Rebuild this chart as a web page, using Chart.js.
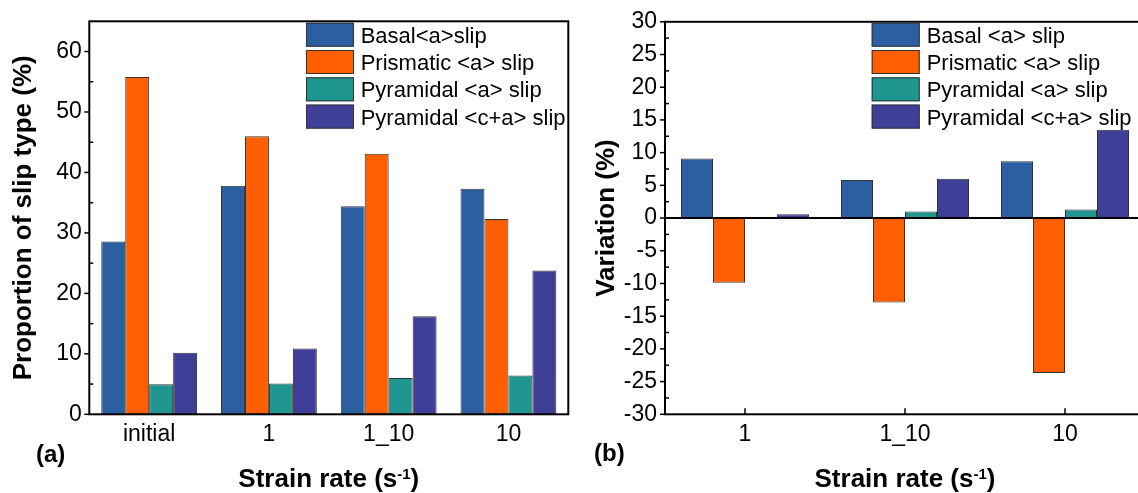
<!DOCTYPE html>
<html><head><meta charset="utf-8">
<script src="https://cdn.jsdelivr.net/npm/chart.js@4/dist/chart.umd.min.js"></script>
<style>
html,body{margin:0;padding:0;background:#fff;overflow:hidden;width:1138px;height:493px;position:relative;}
#ca{position:absolute;left:0;top:0;width:570px;height:493px;}
#cb{position:absolute;left:570px;top:0;width:600px;height:493px;}
</style></head><body>
<canvas id="ca" width="570" height="493"></canvas>
<canvas id="cb" width="600" height="493"></canvas>
<script>
// ---------- data ----------
const categoriesA = ['initial', '1', '1_10', '10'];
const categoriesB = ['1', '1_10', '10'];
const namesA = ['Basal<a>slip', 'Prismatic <a> slip', 'Pyramidal <a> slip', 'Pyramidal <c+a> slip'];
const namesB = ['Basal <a> slip', 'Prismatic <a> slip', 'Pyramidal <a> slip', 'Pyramidal <c+a> slip'];
const basalA     = [28.6, 37.8, 34.4, 37.3];
const prismaticA = [55.8, 46.0, 43.1, 32.3];
const pyrAA      = [4.95, 5.1, 6.0, 6.4];
const pyrCAA     = [10.2, 10.9, 16.2, 23.8];
const basalB     = [9.1, 5.8, 8.7];
const prismaticB = [-9.9, -12.9, -23.7];
const pyrAB      = [0.15, 1.0, 1.3];
const pyrCAB     = [0.6, 6.0, 13.5];
const ticksA = [0, 10, 20, 30, 40, 50, 60];
const minorTicksA = [5, 15, 25, 35, 45, 55];
const ticksB = [-30, -25, -20, -15, -10, -5, 0, 5, 10, 15, 20, 25, 30];
const minorTicksB = [-27.5, -22.5, -17.5, -12.5, -7.5, -2.5, 2.5, 7.5, 12.5, 17.5, 22.5, 27.5];
const colors = ['#2C5FA0', '#FF5F00', '#1F9690', '#403F98'];

const FONT = "'Liberation Sans', Arial, Helvetica, sans-serif";

function line(ctx, x1, y1, x2, y2) { ctx.beginPath(); ctx.moveTo(x1, y1); ctx.lineTo(x2, y2); ctx.stroke(); }

const deco = {
  id: 'deco',
  afterDatasetsDraw(chart, args, o) {
    const ctx = chart.ctx, a = chart.chartArea, x = chart.scales.x, y = chart.scales.y;
    ctx.save();
    ctx.strokeStyle = '#000';
    ctx.lineWidth = 2;
    if (o.zeroLine) { const zy = y.getPixelForValue(0); line(ctx, a.left, zy, a.right, zy); }
    ctx.strokeRect(a.left, a.top, a.right - a.left, a.bottom - a.top);
    ctx.lineWidth = 1.5;
    o.majors.forEach(v => { const py = y.getPixelForValue(v); line(ctx, a.left - 5, py, a.left, py); });
    o.minors.forEach(v => { const py = y.getPixelForValue(v); line(ctx, a.left, py, a.left + 4, py); });
    if (o.xTicks) x.ticks.forEach((t, i) => { const px = x.getPixelForTick(i); line(ctx, px, a.bottom, px, a.bottom - 6); });
    // legend
    const L = o.legend;
    chart.data.datasets.forEach((ds, i) => {
      const by = L.y + i * L.pitch;
      ctx.fillStyle = ds.backgroundColor;
      ctx.fillRect(L.x, by, L.bw, L.bh);
      ctx.strokeStyle = '#333'; ctx.lineWidth = 1;
      ctx.strokeRect(L.x + 0.5, by + 0.5, L.bw - 1, L.bh - 1);
      ctx.fillStyle = '#000';
      ctx.font = '22px ' + FONT;
      ctx.textAlign = 'left'; ctx.textBaseline = 'alphabetic';
      ctx.fillText(ds.label, L.tx, by + L.bh / 2 + 7.9);
    });
    // x title with superscript
    ctx.fillStyle = '#000';
    const cx = (a.left + a.right) / 2, base = o.xTitleY;
    const f1 = 'bold 26px ' + FONT, f2 = 'bold 15px ' + FONT;
    const p1 = 'Strain rate (s', p2 = '-1', p3 = ')';
    ctx.font = f1; const w1 = ctx.measureText(p1).width, w3 = ctx.measureText(p3).width;
    ctx.font = f2; const w2 = ctx.measureText(p2).width;
    let sx = cx - (w1 + w2 + w3) / 2;
    ctx.textAlign = 'left'; ctx.textBaseline = 'alphabetic';
    ctx.font = f1; ctx.fillText(p1, sx, base); sx += w1;
    ctx.font = f2; ctx.fillText(p2, sx, base - 8); sx += w2;
    ctx.font = f1; ctx.fillText(p3, sx, base);
    // y title
    ctx.save();
    ctx.translate(o.yTitleX, (a.top + a.bottom) / 2);
    ctx.rotate(-Math.PI / 2);
    ctx.font = 'bold 26px ' + FONT; ctx.textAlign = 'center'; ctx.textBaseline = 'alphabetic';
    ctx.fillText(o.yTitle, 0, 0);
    ctx.restore();
    // panel label
    ctx.font = 'bold 24px ' + FONT; ctx.textAlign = 'left'; ctx.textBaseline = 'alphabetic';
    ctx.fillText(o.panel, o.panelX, o.panelY);
    ctx.restore();
  }
};

function makeChart(id, cats, series, names, cfg) {
  return new Chart(document.getElementById(id), {
    type: 'bar',
    data: {
      labels: cats,
      datasets: series.map((d, i) => ({
        label: names[i], data: d, backgroundColor: colors[i], borderColor: '#333',
        borderWidth: 1, borderSkipped: false, categoryPercentage: 0.8, barPercentage: 1
      }))
    },
    options: {
      responsive: false, animation: false, devicePixelRatio: 1,
      layout: { padding: { top: cfg.top, right: cfg.right, bottom: 0, left: 0 } },
      plugins: { legend: { display: false }, tooltip: { enabled: false }, deco: cfg.deco },
      scales: {
        x: {
          grid: { display: false, drawTicks: false }, border: { display: false },
          ticks: { font: { family: FONT, size: 23 }, color: '#000', padding: 7, maxRotation: 0, autoSkip: false },
          afterFit(s) { s.height = cfg.xh; }
        },
        y: {
          min: cfg.min, max: cfg.max,
          afterBuildTicks(s) { s.ticks = cfg.ticks.map(v => ({ value: v })); },
          grid: { display: false, drawTicks: false }, border: { display: false },
          ticks: { font: { family: FONT, size: 23 }, color: '#000', padding: cfg.ypad },
          afterFit(s) { s.width = cfg.yw; }
        }
      }
    },
    plugins: [deco]
  });
}

makeChart('ca', categoriesA, [basalA, prismaticA, pyrAA, pyrCAA], namesA, {
  top: 20.7, right: 1.7, xh: 78.7, yw: 89.3, min: 0, max: 65, ticks: ticksA, ypad: 7.5,
  deco: {
    zeroLine: false, majors: ticksA, minors: minorTicksA, xTicks: false,
    legend: { x: 306, y: 22.7, pitch: 27.3, bw: 48, bh: 24, tx: 360.7 },
    xTitleY: 486.7, yTitle: 'Proportion of slip type (%)', yTitleX: 31,
    panel: '(a)', panelX: 36, panelY: 462
  }
});

makeChart('cb', categoriesB, [basalB, prismaticB, pyrAB, pyrCAB], namesB, {
  top: 20.7, right: 25, xh: 78.7, yw: 95, min: -30, max: 30, ticks: ticksB, ypad: 8,
  deco: {
    zeroLine: true, majors: ticksB, minors: minorTicksB, xTicks: true,
    legend: { x: 301.7, y: 22.7, pitch: 27.3, bw: 48, bh: 24, tx: 356.7 },
    xTitleY: 486.7, yTitle: 'Variation (%)', yTitleX: 43.5,
    panel: '(b)', panelX: 24, panelY: 461
  }
});
</script>
</body></html>
